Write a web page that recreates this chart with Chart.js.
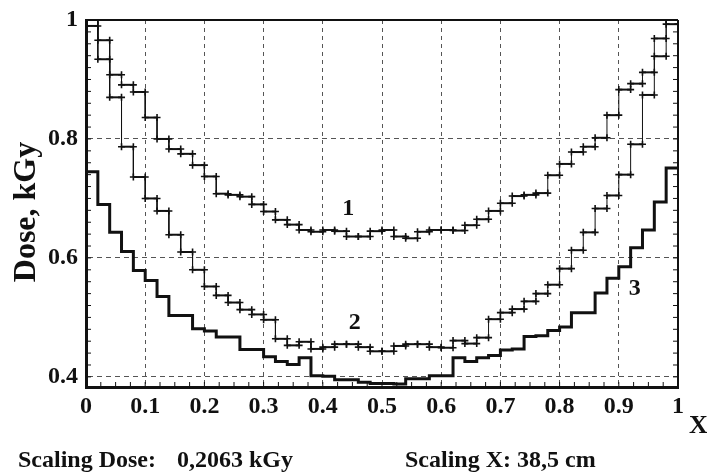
<!DOCTYPE html>
<html><head><meta charset="utf-8">
<script src="https://cdn.jsdelivr.net/npm/chart.js@4.4.0/dist/chart.umd.min.js"></script>
<style>html,body{margin:0;padding:0;background:#fff;}canvas{display:block;}</style>
</head><body>
<canvas id="c" width="707" height="473"></canvas>
<script>
// ---- data ----
const xEdges = [0,0.02,0.04,0.06,0.08,0.10,0.12,0.14,0.16,0.18,0.20,0.22,0.24,0.26,0.28,0.30,0.32,0.34,0.36,0.38,0.40,
  0.42,0.44,0.46,0.48,0.50,0.52,0.54,0.56,0.58,0.60,0.62,0.64,0.66,0.68,0.70,0.72,0.74,0.76,0.78,0.80,
  0.82,0.84,0.86,0.88,0.90,0.92,0.94,0.96,0.98,1.00];
const curve1 = [1.000,0.966,0.908,0.891,0.879,0.836,0.800,0.783,0.775,0.756,
  0.737,0.708,0.706,0.703,0.690,0.678,0.664,0.656,0.647,0.644,
  0.647,0.645,0.636,0.636,0.645,0.647,0.636,0.633,0.644,0.647,
  0.647,0.646,0.655,0.665,0.679,0.692,0.704,0.706,0.709,0.739,
  0.758,0.778,0.787,0.802,0.840,0.883,0.893,0.912,0.969,1.000];
const curve2 = [0.990,0.934,0.870,0.787,0.736,0.700,0.679,0.639,0.610,0.580,
  0.552,0.537,0.525,0.513,0.505,0.496,0.464,0.453,0.459,0.447,
  0.450,0.455,0.455,0.450,0.443,0.443,0.452,0.455,0.455,0.450,
  0.449,0.461,0.456,0.466,0.497,0.508,0.514,0.527,0.540,0.555,
  0.582,0.613,0.643,0.683,0.705,0.740,0.791,0.874,0.939,0.993];
const curve3 = [0.745,0.690,0.643,0.611,0.579,0.562,0.535,0.503,0.503,0.481,
  0.477,0.467,0.467,0.446,0.446,0.434,0.426,0.421,0.432,0.402,
  0.401,0.395,0.395,0.391,0.389,0.389,0.388,0.397,0.397,0.402,
  0.402,0.432,0.426,0.432,0.436,0.445,0.447,0.468,0.469,0.478,
  0.484,0.508,0.508,0.541,0.566,0.585,0.617,0.647,0.694,0.751];
const xTicks = [0,0.1,0.2,0.3,0.4,0.5,0.6,0.7,0.8,0.9,1];
const xTickLabels = ['0','0.1','0.2','0.3','0.4','0.5','0.6','0.7','0.8','0.9','1'];
const yTicks = [0.4,0.6,0.8,1];
const yTickLabels = ['0.4','0.6','0.8','1'];
const curveNames = ['1','2','3'];
const curveNamePos = [[0.443,0.683],[0.454,0.491],[0.927,0.548]];
const yTitle = 'Dose, kGy';
const xTitle = 'X';
const noteDose = ['Scaling Dose:', '0,2063 kGy'];
const noteX = 'Scaling X: 38,5 cm';

// ---- helpers ----
function markedSteps(vals){
  const pts = [];
  vals.forEach((v,k)=>{ pts.push({x:xEdges[k],y:v}); pts.push({x:xEdges[k+1],y:v}); });
  return pts;
}
function plainSteps(vals){
  const pts = vals.map((v,k)=>({x:xEdges[k],y:v}));
  pts.push({x:xEdges[vals.length],y:vals[vals.length-1]});
  return pts;
}
const SERIF = '"Liberation Serif","Times New Roman",serif';
const INK = '#111';

const markedStyle = {
  borderColor: INK, borderWidth: 2, tension: 0, fill: false,
  pointStyle: 'cross', pointRadius: 3.5, pointBorderWidth: 1.6,
  pointBorderColor: INK, pointBackgroundColor: INK,
  segment: { borderWidth: c => (c.p0.parsed.y === c.p1.parsed.y ? 2 : 1) }
};

const decor = {
  id: 'decor',
  afterDatasetsDraw(chart){
    const ctx = chart.ctx, a = chart.chartArea;
    const xs = chart.scales.x, ys = chart.scales.y;
    ctx.save();
    ctx.strokeStyle = INK;
    ctx.lineWidth = 2;
    ctx.beginPath();
    ctx.moveTo(a.left, a.top); ctx.lineTo(a.right, a.top);
    ctx.moveTo(a.right, a.top); ctx.lineTo(a.right, a.bottom);
    ctx.stroke();
    ctx.lineWidth = 1;
    ctx.beginPath();
    for (let i = 0; i <= 40; i++){
      const px = xs.getPixelForValue(i*0.025);
      ctx.moveTo(px, a.bottom); ctx.lineTo(px, a.bottom-5);
    }
    for (let i = 0; i <= 30; i++){
      const py = ys.getPixelForValue(0.4 + i*0.02);
      ctx.moveTo(a.left, py); ctx.lineTo(a.left+5, py);
      ctx.moveTo(a.right, py); ctx.lineTo(a.right-5, py);
    }
    ctx.stroke();
    ctx.restore();
  },
  afterDraw(chart){
    const ctx = chart.ctx;
    const xs = chart.scales.x, ys = chart.scales.y;
    ctx.save();
    ctx.fillStyle = INK;
    // curve labels
    ctx.font = 'bold 24px ' + SERIF;
    ctx.textAlign = 'center'; ctx.textBaseline = 'middle';
    curveNames.forEach((t,i)=>{
      ctx.fillText(t, xs.getPixelForValue(curveNamePos[i][0]), ys.getPixelForValue(curveNamePos[i][1]));
    });
    // y title
    ctx.save();
    ctx.translate(35, 212);
    ctx.rotate(-Math.PI/2);
    ctx.font = 'bold 32px ' + SERIF;
    ctx.textAlign = 'center'; ctx.textBaseline = 'alphabetic';
    ctx.fillText(yTitle, 0, 0);
    ctx.restore();
    // x title
    ctx.font = 'bold 26px ' + SERIF;
    ctx.textAlign = 'left'; ctx.textBaseline = 'alphabetic';
    ctx.fillText(xTitle, 689, 433);
    // notes
    ctx.font = 'bold 24px ' + SERIF;
    ctx.fillText(noteDose[0], 18, 467);
    ctx.fillText(noteDose[1], 177, 467);
    ctx.fillText(noteX, 405, 467);
    ctx.restore();
  }
};

new Chart(document.getElementById('c'), {
  type: 'line',
  data: { datasets: [
    Object.assign({ label: curveNames[0], data: markedSteps(curve1) }, markedStyle),
    Object.assign({ label: curveNames[1], data: markedSteps(curve2) }, markedStyle),
    { label: curveNames[2], data: plainSteps(curve3), stepped: 'before', borderColor: INK,
      borderWidth: 3, pointRadius: 0, fill: false }
  ]},
  options: {
    responsive: false, animation: false, devicePixelRatio: 1,
    layout: { padding: { left: 0, top: 16, right: 29, bottom: 0 } },
    plugins: { legend: { display: false }, tooltip: { enabled: false } },
    scales: {
      x: {
        type: 'linear', min: 0, max: 1,
        afterBuildTicks: s => { s.ticks = xTicks.map(v => ({ value: v })); },
        afterFit: s => { s.height = 86; },
        ticks: {
          autoSkip: false, maxRotation: 0, padding: 8, color: INK,
          font: { family: SERIF, size: 24, weight: 'bold', lineHeight: 1 },
          callback: v => { const j = xTicks.indexOf(v); return j >= 0 ? xTickLabels[j] : ''; }
        },
        grid: { color: '#555', lineWidth: 1, drawTicks: false },
        border: { color: INK, width: 3, dash: [4, 4] }
      },
      y: {
        type: 'linear', min: 0.383, max: 1,
        afterBuildTicks: s => { s.ticks = yTicks.map(v => ({ value: v })); },
        afterFit: s => { s.width = 86; },
        ticks: {
          autoSkip: false, padding: 8, color: INK,
          font: { family: SERIF, size: 24, weight: 'bold', lineHeight: 1 },
          callback: v => { const j = yTicks.indexOf(v); return j >= 0 ? yTickLabels[j] : ''; }
        },
        grid: { color: '#555', lineWidth: 1, drawTicks: false },
        border: { color: INK, width: 3, dash: [5, 4] }
      }
    }
  },
  plugins: [decor]
});
</script>
</body></html>
